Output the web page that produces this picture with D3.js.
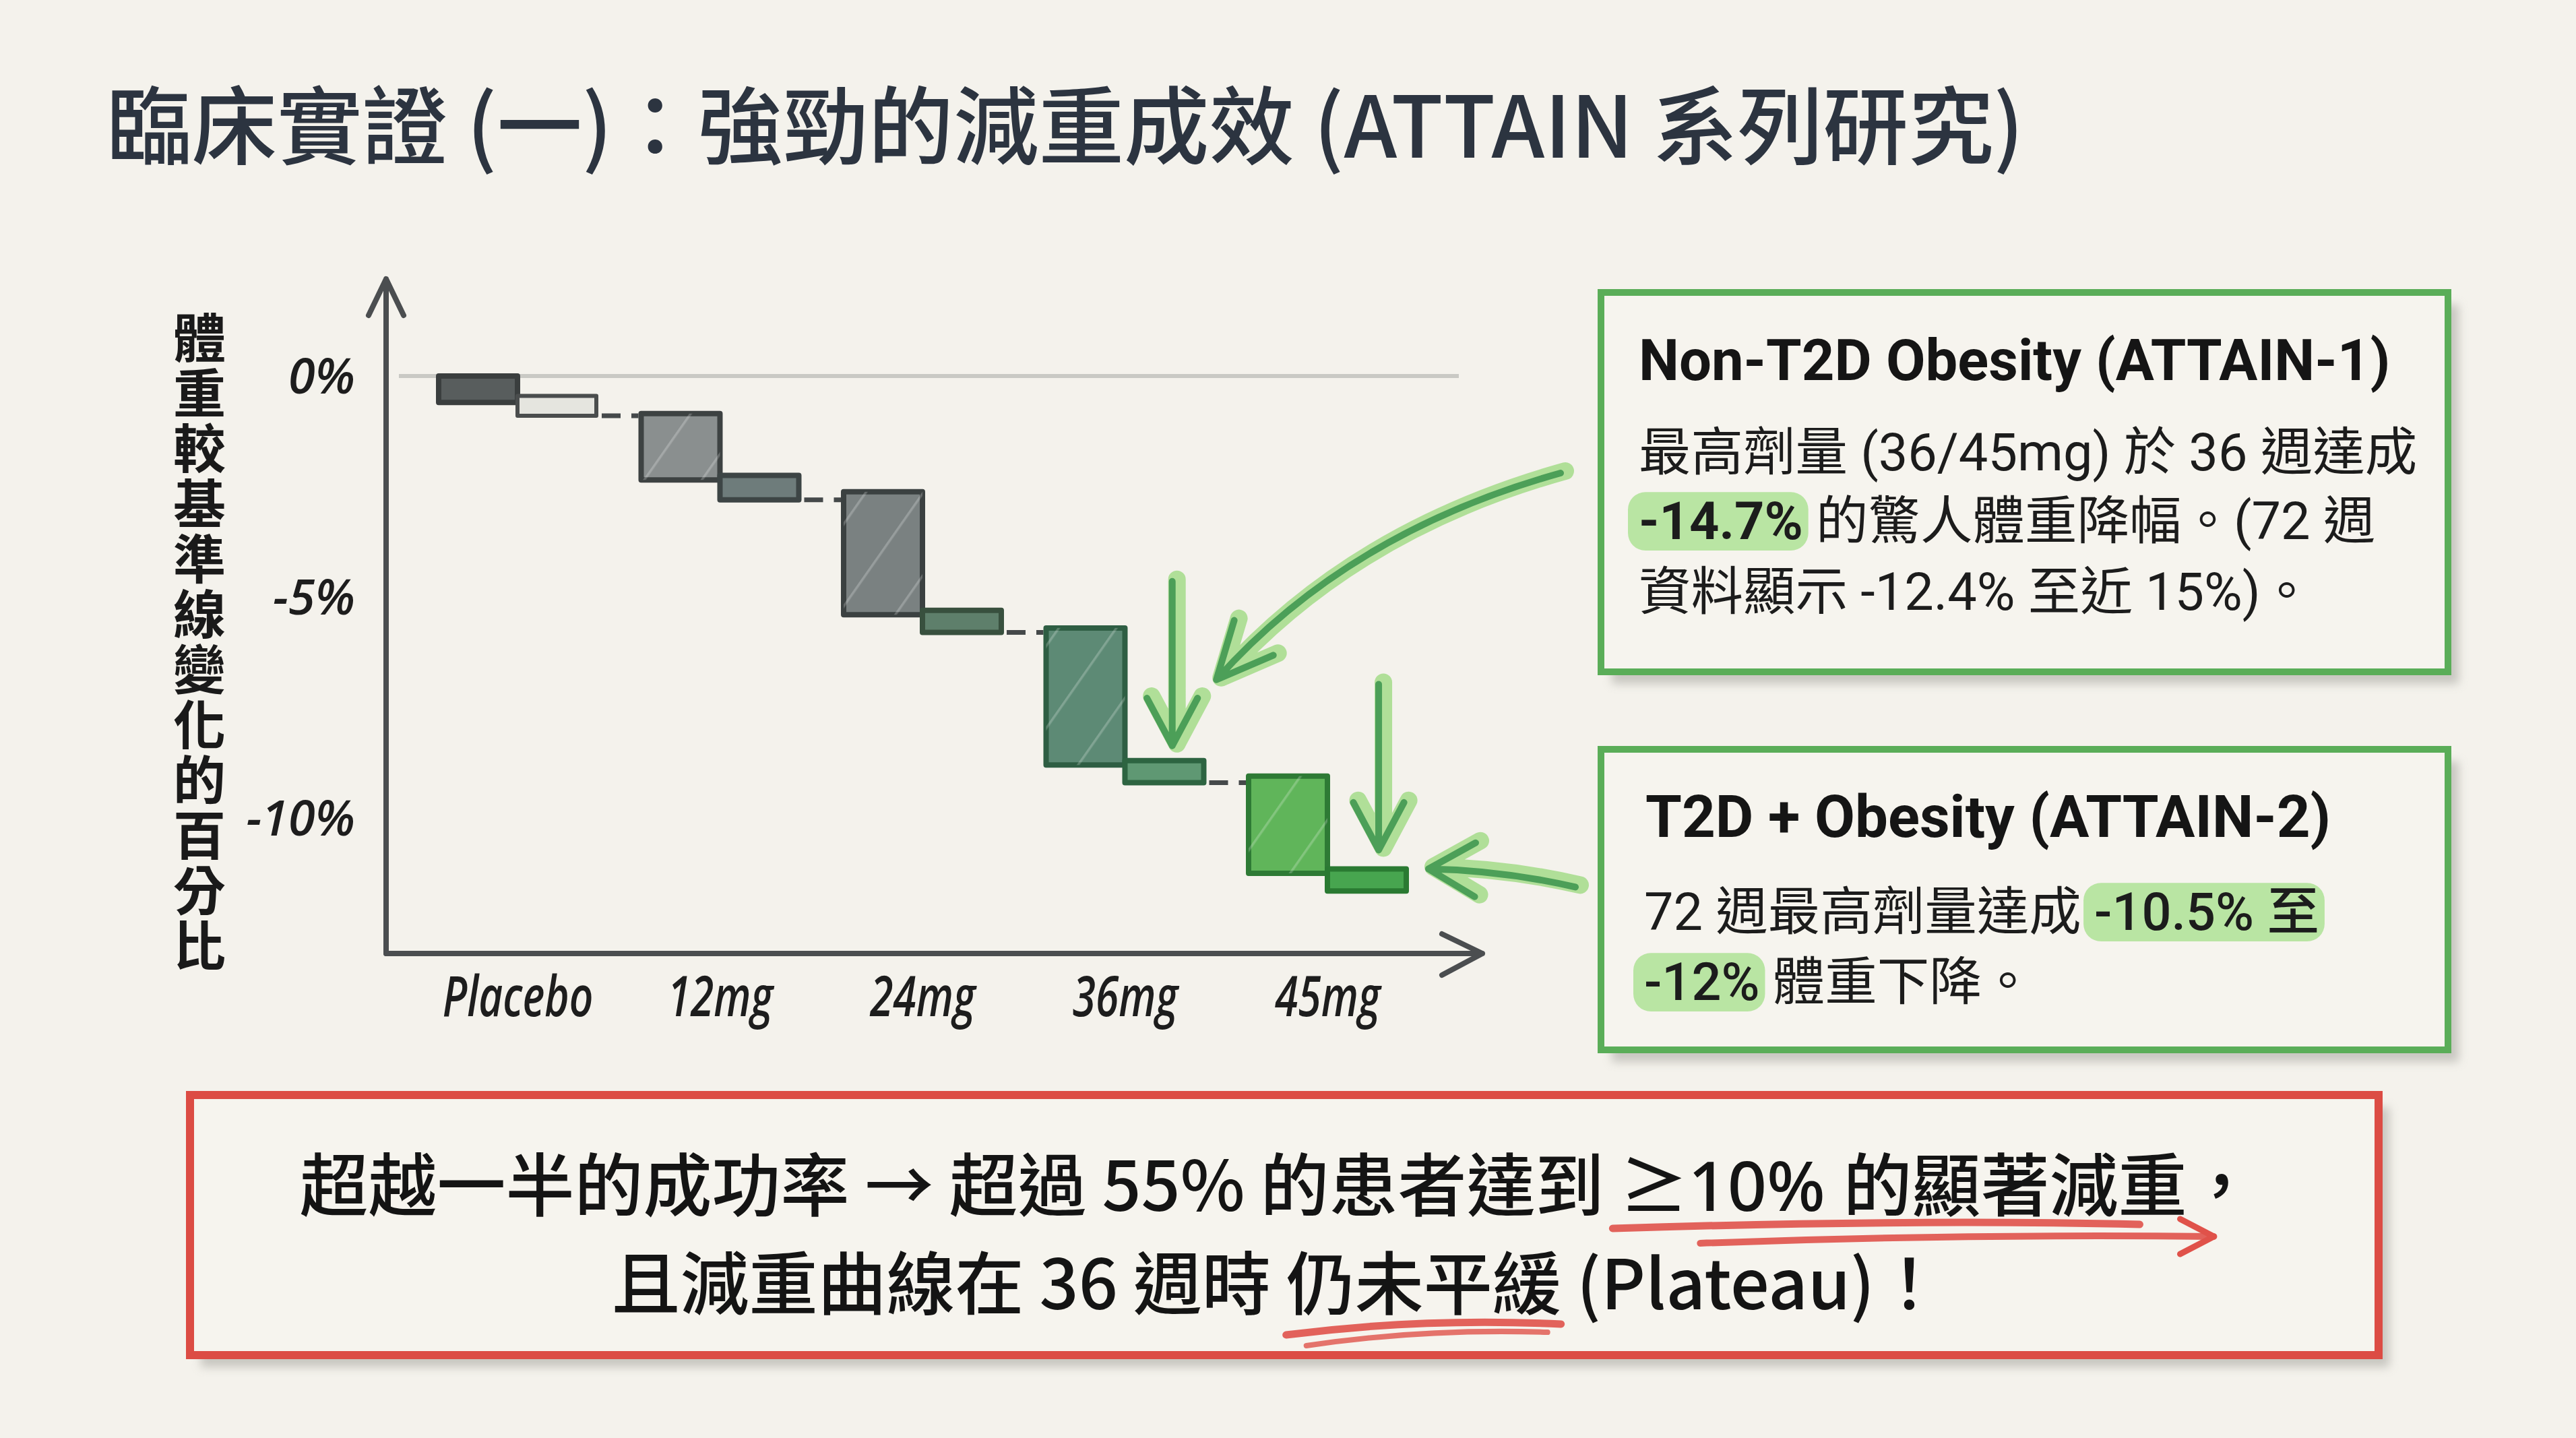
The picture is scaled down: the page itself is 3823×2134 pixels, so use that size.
<!DOCTYPE html>
<html><head><meta charset="utf-8">
<script src="https://cdn.jsdelivr.net/npm/d3@7"></script>
<style>html,body{margin:0;padding:0;background:#f4f2ec;} svg{display:block}</style>
</head><body>
<script>
// ---------- data ----------
const categories = ["Placebo", "12mg", "24mg", "36mg", "45mg"];
const mainTop    = [0, -0.85, -2.62, -5.7, -9.05];
const mainBottom = [-0.6, -2.35, -5.4, -8.8, -11.25];
const stepTop    = [-0.45, -2.25, -5.3, -8.7, -11.15];
const stepBottom = [-0.9, -2.8, -5.8, -9.2, -11.65];
const yTicks = [0, -5, -10];
const yTickLabels = ["0%", "-5%", "-10%"];
const titleText = "臨床實證 (一)：強勁的減重成效 (ATTAIN 系列研究)";
const yTitleText = "體重較基準線變化的百分比";
const box1Title = "Non-T2D Obesity (ATTAIN-1)";
const box1Lines = [
  [{t: "最高劑量 (36/45mg) 於 36 週達成"}],
  [{t: "-14.7%", hl: true, w: 700}, {t: " 的驚人體重降幅。(72 週"}],
  [{t: "資料顯示 -12.4% 至近 15%)。"}]
];
const box2Title = "T2D + Obesity (ATTAIN-2)";
const box2Lines = [
  [{t: "72 週最高劑量達成 "}, {t: "-10.5% 至", hl: true, w: 500}],
  [{t: "-12%", hl: true, w: 500}, {t: " 體重下降。"}]
];
const bottomLines = [
  [{t: "超越一半的成功率 → 超過 55% 的患者達到 "}, {t: "≥10% 的顯著減重", ul: "arrow", latin: true}, {t: "，"}],
  [{t: "且減重曲線在 36 週時 "}, {t: "仍未平緩", ul: "plain"}, {t: " (Plateau)！"}]
];

// ---------- styles ----------
const mainFill   = ["#585d5d", "#8a8f8f", "#7a8181", "#5d8a75", "#60b55a"];
const mainStroke = ["#3a3e3e", "#3d4242", "#3b4141", "#2e5e43", "#2e7a35"];
const stepFill   = ["#e5e5df", "#6e7c7b", "#5e7f6b", "#5f9873", "#47a54f"];
const stepStroke = ["#4a4d4d", "#3d4545", "#38503e", "#2d6441", "#2a7a32"];

const W = 3823, H = 2134;
const svg = d3.select("body").append("svg").attr("width", W).attr("height", H);
svg.append("rect").attr("width", W).attr("height", H).attr("fill", "#f4f2ec");

const defs = svg.append("defs");
const pat = defs.append("pattern").attr("id", "hatch").attr("patternUnits", "userSpaceOnUse")
  .attr("width", 70).attr("height", 70).attr("patternTransform", "rotate(35)");
pat.append("line").attr("x1", 0).attr("y1", 0).attr("x2", 0).attr("y2", 70)
  .attr("stroke", "#ffffff").attr("stroke-opacity", 0.22).attr("stroke-width", 7);
const blur = defs.append("filter").attr("id", "shadow").attr("x", "-10%").attr("y", "-10%").attr("width", "130%").attr("height", "130%");
blur.append("feGaussianBlur").attr("stdDeviation", 7);

const SANS = "Roboto, 'Noto Sans CJK TC', sans-serif";
const CJK = "'Noto Sans CJK TC', 'Noto Sans', sans-serif";
const LATIN_CJK = "'Noto Sans', 'Noto Sans CJK TC', sans-serif";
const HAND = "'Open Sans', 'Noto Sans', sans-serif";

// ---------- title ----------
svg.append("text").attr("x", 158).attr("y", 234).attr("font-family", CJK).attr("font-weight", 500)
  .attr("font-size", 126.5).attr("fill", "#2c3440").text(titleText);

// ---------- scales ----------
const x = d3.scalePoint().domain(categories).range([768, 1970]);
const y = d3.scaleLinear().domain([0, -10]).range([558, 1214]);
const barW = 117;
const axisX = 573, axisY = 1415;

// zero gridline
svg.append("line").attr("x1", 592).attr("x2", 2165).attr("y1", y(0)).attr("y2", y(0))
  .attr("stroke", "#c9c9c4").attr("stroke-width", 6);

// axes lines with arrows
const axisCol = "#4b4e50";
svg.append("path").attr("d", `M${axisX},${axisY} L${axisX},414 M${axisX - 26},468 L${axisX},414 L${axisX + 26},468`)
  .attr("fill", "none").attr("stroke", axisCol).attr("stroke-width", 8).attr("stroke-linecap", "round").attr("stroke-linejoin", "round");
svg.append("path").attr("d", `M${axisX},${axisY} L2200,${axisY} M2140,1386 L2200,${axisY} L2140,1447`)
  .attr("fill", "none").attr("stroke", axisCol).attr("stroke-width", 8).attr("stroke-linecap", "round").attr("stroke-linejoin", "round");

// y axis ticks via d3 axis
const yAxis = svg.append("g").attr("transform", `translate(${axisX},0)`)
  .call(d3.axisLeft(y).tickValues(yTicks).tickSize(0).tickPadding(46)
    .tickFormat((d, i) => yTickLabels[i]));
yAxis.select(".domain").remove();
yAxis.selectAll("text").attr("font-family", HAND).attr("font-style", "italic").attr("font-weight", 600)
  .attr("font-size", 72).attr("fill", "#1d1d1d").attr("dy", "0.36em");

// x axis labels via d3 axis
const xAxis = svg.append("g").attr("transform", `translate(0,${axisY})`)
  .call(d3.axisBottom(x).tickSize(0).tickPadding(0));
xAxis.select(".domain").remove();
xAxis.selectAll("text").attr("font-family", HAND).attr("font-style", "italic").attr("font-weight", 600)
  .attr("font-size", 84).attr("fill", "#1d1d1d").attr("dy", 0).attr("y", 93)
  .attr("transform", "scale(0.74,1)");

// y axis title (vertical, single text element)
svg.append("text").attr("x", 296).attr("y", 462).attr("font-family", CJK).attr("font-weight", 700)
  .attr("font-size", 78).attr("fill", "#1a1a1a")
  .style("writing-mode", "vertical-rl").style("text-orientation", "upright")
  .style("letter-spacing", "4px").text(yTitleText);

// ---------- waterfall bars ----------
const barsG = svg.append("g");
categories.forEach((c, i) => {
  const cx = x(c);
  const mt = y(mainTop[i]), mb = y(mainBottom[i]);
  barsG.append("rect").attr("x", cx - barW).attr("y", mt).attr("width", barW).attr("height", mb - mt)
    .attr("fill", mainFill[i]).attr("stroke", mainStroke[i]).attr("stroke-width", 8).attr("stroke-linejoin", "round");
  if (i > 0) barsG.append("rect").attr("x", cx - barW).attr("y", mt).attr("width", barW).attr("height", mb - mt)
    .attr("fill", "url(#hatch)");
  const st = y(stepTop[i]), sb = y(stepBottom[i]);
  barsG.append("rect").attr("x", cx).attr("y", st).attr("width", barW).attr("height", sb - st)
    .attr("fill", stepFill[i]).attr("stroke", stepStroke[i]).attr("stroke-width", i === 0 ? 6 : 8).attr("stroke-linejoin", "round");
  if (i < categories.length - 1) {
    barsG.append("line").attr("x1", cx + barW + 8).attr("x2", x(categories[i + 1]) - barW - 4)
      .attr("y1", sb).attr("y2", sb).attr("stroke", "#45494a").attr("stroke-width", 7)
      .attr("stroke-dasharray", "28 16");
  }
});

// ---------- green arrows ----------
function arrowHead(tip, from, len, ang) {
  const dx = from[0] - tip[0], dy = from[1] - tip[1];
  const L = Math.hypot(dx, dy), ux = dx / L, uy = dy / L;
  const a = ang * Math.PI / 180;
  const r = (s) => [tip[0] + len * (ux * Math.cos(s) - uy * Math.sin(s)), tip[1] + len * (ux * Math.sin(s) + uy * Math.cos(s))];
  const p1 = r(a), p2 = r(-a);
  return `M${p1[0]},${p1[1]} L${tip[0]},${tip[1]} L${p2[0]},${p2[1]}`;
}
function greenArrow(d, head) {
  const g = svg.append("g");
  g.append("path").attr("d", d + " " + head).attr("transform", "translate(7,-3)").attr("fill", "none")
    .attr("stroke", "#a9dd8f").attr("stroke-width", 26).attr("stroke-linecap", "round").attr("stroke-linejoin", "round").attr("opacity", 0.9);
  g.append("path").attr("d", d + " " + head).attr("fill", "none")
    .attr("stroke", "#4c9f58").attr("stroke-width", 10).attr("stroke-linecap", "round").attr("stroke-linejoin", "round");
}
{
  const ax = x("36mg") + barW * 0.6, tipY = y(stepTop[3]) - 22, topY = tipY - 244;
  greenArrow(`M${ax},${topY} L${ax},${tipY}`, arrowHead([ax, tipY], [ax, topY], 80, 28));
}
{
  const ax = x("45mg") + barW * 0.65, tipY = y(stepTop[4]) - 28, topY = tipY - 246;
  greenArrow(`M${ax},${topY} L${ax},${tipY}`, arrowHead([ax, tipY], [ax, topY], 80, 28));
}
{
  const tip = [x("45mg") + barW + 33, y(stepTop[4])], from = [tip[0] + 218, tip[1] + 27];
  const ctrl = [tip[0] + 110, tip[1] + 2];
  greenArrow(`M${from[0]},${from[1]} Q${ctrl[0]},${ctrl[1]} ${tip[0]},${tip[1]}`, arrowHead(tip, ctrl, 80, 30));
}
{
  const tip = [x("36mg") + barW * 1.16, y(stepTop[3]) - 120], from = [2316, 702], ctrl = [2000, 790];
  greenArrow(`M${from[0]},${from[1]} Q${ctrl[0]},${ctrl[1]} ${tip[0]},${tip[1]}`, arrowHead(tip, ctrl, 92, 25));
}

// ---------- rich text helper ----------
function richLine(g, parts, o) {
  const nodes = parts.map(p => {
    const t = g.append("text").attr("y", o.y).attr("font-size", o.size)
      .attr("font-family", p.latin ? LATIN_CJK : o.family)
      .attr("font-weight", p.w || o.weight).attr("fill", o.fill).attr("xml:space", "preserve")
      .style("white-space", "pre").text(p.t);
    return {t, p, w: t.node().getComputedTextLength()};
  });
  const total = d3.sum(nodes, n => n.w);
  let cx = o.anchor === "middle" ? o.x - total / 2 : o.x;
  nodes.forEach(n => { n.x0 = cx; n.t.attr("x", cx); cx += n.w; n.x1 = cx; });
  nodes.filter(n => n.p.hl).forEach(n => {
    g.insert("rect", "text").attr("x", n.x0 - 16).attr("y", o.y - o.size * 0.9)
      .attr("width", n.x1 - n.x0 + 24).attr("height", o.size * 1.12).attr("rx", 26)
      .attr("fill", "#b3e39a").attr("opacity", 0.9);
  });
  return nodes;
}

function card(bx, by, bw, bh, stroke, sw) {
  const g = svg.append("g");
  g.append("rect").attr("x", bx + 16).attr("y", by + 18).attr("width", bw).attr("height", bh)
    .attr("fill", "#bdbcb6").attr("opacity", 0.8).attr("filter", "url(#shadow)");
  g.append("rect").attr("x", bx).attr("y", by).attr("width", bw).attr("height", bh)
    .attr("fill", "#f6f4ee").attr("stroke", stroke).attr("stroke-width", sw);
  return g;
}

// ---------- box 1 ----------
{
  const g = card(2376, 434, 1257, 563, "#5aad58", 10);
  g.append("text").attr("x", 2432).attr("y", 564).attr("font-family", SANS).attr("font-weight", 700)
    .attr("font-size", 85).attr("fill", "#151515").text(box1Title);
  const base = [698, 800, 905];
  box1Lines.forEach((ln, i) => richLine(g, ln, {x: 2432, y: base[i], size: 77.5, family: SANS, weight: 400, fill: "#1c1c1c"}));
}
// ---------- box 2 ----------
{
  const g = card(2376, 1112, 1257, 446, "#5aad58", 10);
  g.append("text").attr("x", 2442).attr("y", 1242).attr("font-family", SANS).attr("font-weight", 700)
    .attr("font-size", 87).attr("fill", "#151515").text(box2Title);
  const base = [1380, 1484];
  box2Lines.forEach((ln, i) => richLine(g, ln, {x: 2440, y: base[i], size: 77.5, family: SANS, weight: 400, fill: "#1c1c1c"}));
}
// ---------- bottom box ----------
{
  const g = card(282, 1625, 3248, 386, "#dc4c44", 12);
  const base = [1797, 1943];
  bottomLines.forEach((ln, i) => {
    const nodes = richLine(g, ln, {x: 1896, y: base[i], size: 102, family: CJK, weight: 500, fill: "#141414", anchor: "middle"});
    nodes.filter(n => n.p.ul).forEach(n => {
      const red = "#e0524a";
      if (n.p.ul === "arrow") {
        const x0 = n.x0 - 10, x1 = n.x1 + 40, yy = base[i] + 26;
        g.append("path").attr("d", `M${x0},${yy} Q${(x0 + x1) / 2},${yy - 14} ${x1 - 110},${yy - 6}`)
          .attr("fill", "none").attr("stroke", red).attr("stroke-width", 11).attr("stroke-linecap", "round").attr("opacity", 0.9);
        g.append("path").attr("d", `M${x0 + 130},${yy + 22} Q${(x0 + x1) / 2 + 60},${yy + 8} ${x1},${yy + 12}`)
          .attr("fill", "none").attr("stroke", red).attr("stroke-width", 10).attr("stroke-linecap", "round").attr("opacity", 0.9);
        g.append("path").attr("d", `M${x1 - 50},${yy - 14} L${x1},${yy + 12} L${x1 - 50},${yy + 38}`)
          .attr("fill", "none").attr("stroke", red).attr("stroke-width", 9).attr("stroke-linecap", "round").attr("stroke-linejoin", "round");
      } else {
        const x0 = n.x0, x1 = n.x1, yy = base[i] + 24;
        g.append("path").attr("d", `M${x0},${yy + 14} Q${(x0 + x1) / 2},${yy - 12} ${x1},${yy - 2}`)
          .attr("fill", "none").attr("stroke", red).attr("stroke-width", 11).attr("stroke-linecap", "round").attr("opacity", 0.9);
        g.append("path").attr("d", `M${x0 + 30},${yy + 30} Q${(x0 + x1) / 2},${yy + 4} ${x1 - 20},${yy + 10}`)
          .attr("fill", "none").attr("stroke", red).attr("stroke-width", 8).attr("stroke-linecap", "round").attr("opacity", 0.8);
      }
    });
  });
}
</script>
</body></html>
